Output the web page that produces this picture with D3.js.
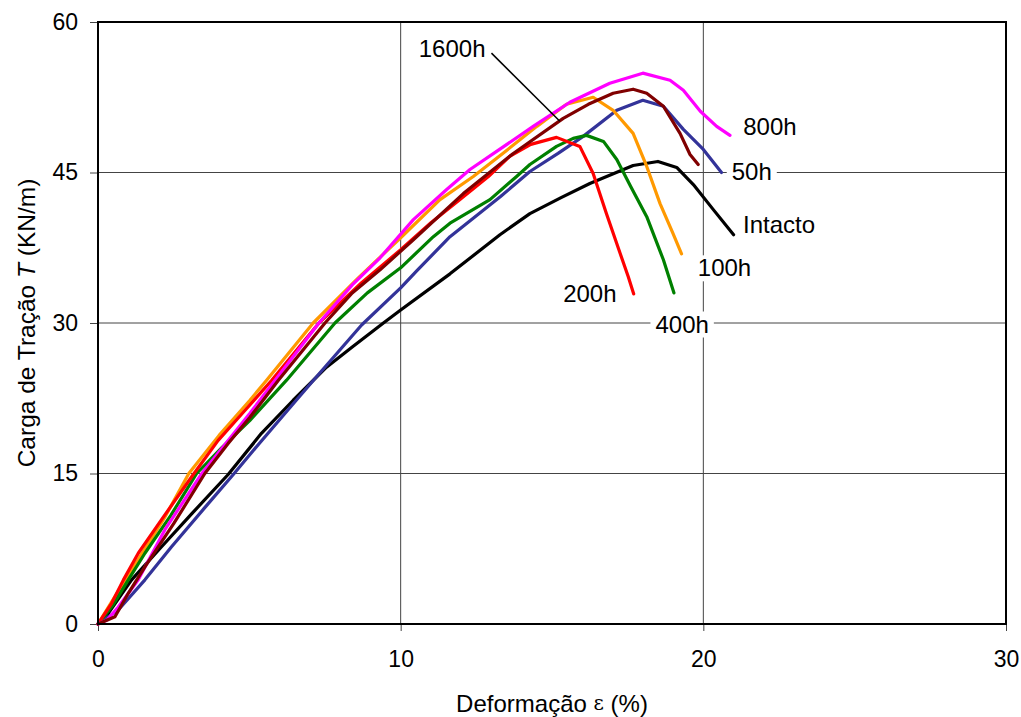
<!DOCTYPE html>
<html>
<head>
<meta charset="utf-8">
<script src="https://cdn.jsdelivr.net/npm/d3@7"></script>
<style>
  body { margin: 0; background: #fff; }
  text { font-family: "Liberation Sans", Arial, sans-serif; }
</style>
</head>
<body>
<svg id="chart" width="1021" height="717"></svg>
<script>
// Axis ticks
const xTicks = [0, 10, 20, 30];
const yTicks = [0, 15, 30, 45, 60];

// Load–strain curves: [deformation %, tensile load kN/m]
const intacto = [[0,0],[0.34,1.07],[1.11,4.4],[2.1,7.7],[3.1,11.0],[4.3,14.9],[5.4,19.0],[6.45,22.3],[7.55,25.6],[8.4,27.6],[9.43,30.0],[10,31.3],[11.63,34.9],[13.28,38.8],[14.27,40.9],[15.3,42.5],[16.25,43.9],[17.68,45.7],[18.5,46.1],[19.12,45.5],[19.67,43.8],[20.33,41.3],[21.0,38.8]];
const h50 = [[0,0],[0.67,1.4],[1.55,4.4],[2.43,7.7],[3.5,11.5],[4.47,14.9],[5.3,17.9],[6.55,22.3],[7.12,24.3],[8.71,29.8],[10,33.5],[10.53,35.2],[11.63,38.6],[13.3,42.6],[14.27,45.1],[15.2,46.9],[16.03,48.6],[17.14,51.2],[18.0,52.2],[18.68,51.6],[19.34,49.3],[20.0,47.3],[20.6,45.0]];
const h100 = [[0,0],[0.45,2.2],[1.3,6.3],[2.2,10.6],[3.0,15],[4.0,18.8],[5.02,22.3],[5.57,24.3],[7.11,30],[8.6,34.5],[10,38.5],[11.3,42.3],[12.4,44.6],[13.5,47.2],[14.5,49.6],[15.48,51.8],[16.36,52.5],[17.02,51.2],[17.68,48.9],[18.13,45.6],[18.57,41.9],[19.0,38.9],[19.28,36.9]];
const h200 = [[0,0],[0.45,2.06],[0.84,4.4],[1.33,7.05],[2.1,10.4],[3.1,14.7],[3.97,18.3],[4.86,21.3],[5.74,24.3],[7.3,30],[8.7,34.0],[10,37.3],[11.0,40.0],[11.96,42.3],[12.9,44.6],[13.6,46.6],[14.3,47.8],[15.15,48.5],[15.92,47.6],[16.36,44.9],[16.8,40.9],[17.25,36.95],[17.52,34.6],[17.7,32.9]];
const h400 = [[0,0],[0.5,1.9],[1.0,4.4],[1.55,7.05],[2.4,10.8],[3.26,15],[4.1,17.6],[5.02,20.3],[6.23,24.3],[7.83,30],[8.9,33.0],[10,35.5],[11.08,38.6],[11.63,39.95],[12.95,42.3],[13.83,44.6],[14.27,45.8],[15.15,47.6],[15.7,48.4],[16.14,48.7],[16.7,48.1],[17.14,46.3],[17.6,43.6],[18.13,40.6],[18.68,36.3],[19.03,33.0]];
const h800 = [[0,0],[0.3,0.4],[0.67,1.7],[1.33,4.4],[2.21,9.4],[3.43,15],[4.3,18.3],[5.02,21.0],[5.85,24.3],[7.3,30],[8.4,33.8],[9.32,36.5],[10.42,40.3],[11.52,43.3],[12.29,45.3],[13.17,47.1],[14.38,49.6],[15.59,52.0],[16.91,53.9],[18.0,54.9],[18.9,54.2],[19.34,53.2],[19.9,51.1],[20.44,49.6],[20.88,48.7]];
const h1600 = [[0,0],[0.56,0.73],[1.0,3.06],[1.55,5.7],[2.5,10.0],[3.53,15],[4.3,18.0],[5.02,20.6],[5.96,24.3],[7.5,30],[8.4,33.0],[9.32,35.3],[10.42,38.3],[12.07,42.9],[13.72,46.9],[15.37,50.4],[16.2,51.8],[17.02,52.9],[17.68,53.3],[18.13,52.9],[18.68,51.6],[19.23,48.9],[19.56,46.8],[19.83,45.8]];

// Drawing order (last on top)
const seriesData   = [intacto, h50, h100, h400, h200, h800, h1600];
const seriesColors = ["#000000", "#333399", "#FF9900", "#008000", "#FF0000", "#FF00FF", "#800000"];

// Curve labels and their anchor points in data units
const labelTexts = ["1600h", "800h", "50h", "Intacto", "100h", "200h", "400h"];
const labelX     = [11.7, 22.2, 21.6, 22.5, 20.7, 16.25, 19.3];
const labelY     = [57.4, 49.6, 45.1, 39.8, 35.5, 32.9, 29.9];
// Leader from the 1600h label to its curve
const leaderFrom = [13.0, 56.9];
const leaderTo   = [15.26, 50.1];

const svg = d3.select("#chart");
const margin = { top: 22, right: 15, bottom: 93, left: 98 };
const W = 1021, H = 717;
const iw = W - margin.left - margin.right;
const ih = H - margin.top - margin.bottom;

const x = d3.scaleLinear().domain([0, 30]).range([0, iw]);
const y = d3.scaleLinear().domain([0, 60]).range([ih, 0]);

const g = svg.append("g").attr("transform", `translate(${margin.left},${margin.top})`);

// Grid lines
g.append("g").selectAll("line").data(xTicks.filter(d => d > 0 && d < 30)).join("line")
  .attr("x1", d => x(d)).attr("x2", d => x(d)).attr("y1", 0).attr("y2", ih)
  .attr("stroke", "#444").attr("stroke-width", 1);
g.append("g").selectAll("line").data(yTicks.filter(d => d > 0 && d < 60)).join("line")
  .attr("x1", 0).attr("x2", iw).attr("y1", d => y(d)).attr("y2", d => y(d))
  .attr("stroke", "#444").attr("stroke-width", 1);

// Axes
const xAxis = g.append("g").attr("transform", `translate(0,${ih})`)
  .call(d3.axisBottom(x).tickValues(xTicks).tickSize(7).tickPadding(20).tickFormat(d3.format("d")));
const yAxis = g.append("g")
  .call(d3.axisLeft(y).tickValues(yTicks).tickSize(8).tickPadding(12).tickFormat(d3.format("d")));
[xAxis, yAxis].forEach(a => {
  a.select(".domain").remove();
  a.selectAll(".tick line").attr("stroke", "#444");
  a.selectAll(".tick text").attr("font-size", 23).attr("fill", "#000")
    .style("font-family", '"Liberation Sans", Arial, sans-serif');
});

// Curves
const line = d3.line().x(d => x(d[0])).y(d => y(d[1]));
g.append("g").selectAll("path").data(seriesData).join("path")
  .attr("d", line).attr("fill", "none")
  .attr("stroke", (d, i) => seriesColors[i])
  .attr("stroke-width", 3.2).attr("stroke-linejoin", "round").attr("stroke-linecap", "round");

// Plot frame
g.append("rect").attr("x", 0).attr("y", 0).attr("width", iw).attr("height", ih)
  .attr("fill", "none").attr("stroke", "#000").attr("stroke-width", 2);

// Leader line
g.append("line")
  .attr("x1", x(leaderFrom[0])).attr("y1", y(leaderFrom[1]))
  .attr("x2", x(leaderTo[0])).attr("y2", y(leaderTo[1]))
  .attr("stroke", "#000").attr("stroke-width", 1.5);

// Curve labels on white boxes
const lab = g.append("g").selectAll("g").data(labelTexts).join("g");
lab.each(function (t, i) {
  const grp = d3.select(this);
  const txt = grp.append("text")
    .attr("x", x(labelX[i])).attr("y", y(labelY[i]))
    .attr("text-anchor", "middle").attr("dominant-baseline", "central")
    .attr("font-size", 24).attr("fill", "#000").text(t);
  const bb = txt.node().getBBox();
  grp.insert("rect", "text")
    .attr("x", bb.x - 5).attr("y", bb.y + 1).attr("width", bb.width + 10).attr("height", bb.height - 1)
    .attr("fill", "#fff");
});

// Axis titles
svg.append("text")
  .attr("x", margin.left + x(15)).attr("y", 703)
  .attr("text-anchor", "middle").attr("dominant-baseline", "central")
  .attr("font-size", 24)
  .call(t => {
    t.append("tspan").text("Deformação ");
    t.append("tspan").attr("font-size", 20).attr("font-family", '"DejaVu Serif", serif').text("ε");
    t.append("tspan").text(" (%)");
  });

svg.append("text")
  .attr("transform", `translate(26,${margin.top + ih / 2}) rotate(-90)`)
  .attr("text-anchor", "middle").attr("dominant-baseline", "central")
  .attr("font-size", 24.5)
  .call(t => {
    t.append("tspan").text("Carga de Tração ");
    t.append("tspan").attr("font-style", "italic").text("T");
    t.append("tspan").text(" (KN/m)");
  });
</script>
</body>
</html>
